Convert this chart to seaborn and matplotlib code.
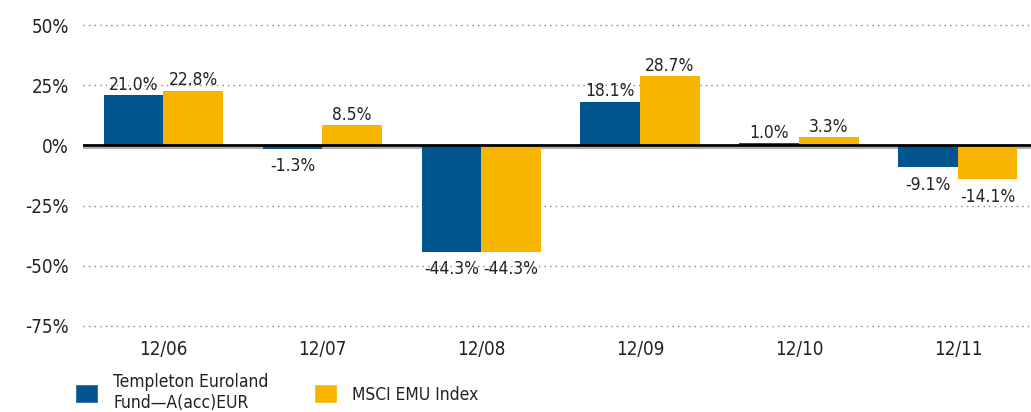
import matplotlib
matplotlib.use('Agg')
import pandas as pd
import matplotlib.pyplot as plt
import seaborn as sns
from matplotlib.patches import Patch

# Calendar year performance data
periods = ['12/06', '12/07', '12/08', '12/09', '12/10', '12/11']
fund_name = 'Templeton Euroland\nFund\u2014A(acc)EUR'
index_name = 'MSCI EMU Index'
fund_returns = [21.0, -1.3, -44.3, 18.1, 1.0, -9.1]
index_returns = [22.8, 8.5, -44.3, 28.7, 3.3, -14.1]
yticks = [-75, -50, -25, 0, 25, 50]

blue = '#00558f'
gold = '#f7b500'

sns.set_style('white')
plt.rcParams['font.family'] = ['DejaVu Sans']
plt.rcParams['font.stretch'] = 'condensed'

df = pd.DataFrame({
    'period': periods * 2,
    'series': [fund_name] * len(periods) + [index_name] * len(periods),
    'value': fund_returns + index_returns,
})

fig = plt.figure(figsize=(10.31, 4.12), dpi=100)
ax = fig.add_axes([0.0805, 0.209, 0.9195, 0.730])

sns.barplot(data=df, x='period', y='value', hue='series', ax=ax,
            palette=[blue, gold], width=0.75, saturation=1, legend=False,
            linewidth=0, zorder=2)

# Dotted gridlines
for y in yticks:
    if y != 0:
        ax.axhline(y, color='#888888', ls=(0, (1, 3)), lw=1.0, zorder=0, clip_on=False)
ax.axhline(-1.1, color='#b0b0b0', lw=1.5, zorder=1)
ax.axhline(0, color='black', lw=2.0, zorder=4)

ax.set_ylim(-75, 50)
ax.set_xlim(-0.505, 5.46)
ax.set_yticks(yticks)
ax.set_yticklabels([f'{y}%' for y in yticks], fontsize=13.5, color='#222222')
ax.tick_params(axis='y', length=0, pad=10)
ax.tick_params(axis='x', length=0, pad=10, labelsize=13.5, labelcolor='#222222')
ax.set_xlabel('')
ax.set_ylabel('')
sns.despine(ax=ax, left=True, bottom=True)

# Value labels
for cont, vals in zip(ax.containers, [fund_returns, index_returns]):
    for bar, v in zip(cont, vals):
        x = bar.get_x() + bar.get_width() / 2
        if v >= 0:
            ax.annotate(f'{v:.1f}%', (x, v), xytext=(0, 1), textcoords='offset points',
                        ha='center', va='bottom', fontsize=12.5, color='#222222')
        else:
            ax.annotate(f'{v:.1f}%', (x, v), xytext=(0, -6), textcoords='offset points',
                        ha='center', va='top', fontsize=12.5, color='#222222')

handles = [Patch(facecolor=blue), Patch(facecolor=gold)]
fig.legend(handles, [fund_name, index_name], loc='lower left',
           bbox_to_anchor=(0.073, 0.0), ncol=2, frameon=False, fontsize=12.5,
           handlelength=1.3, handleheight=1.3, handletextpad=0.9,
           columnspacing=2.6, labelcolor='#222222', labelspacing=0.1,
           borderpad=0, borderaxespad=0)

fig.savefig('out.png', dpi=100)
